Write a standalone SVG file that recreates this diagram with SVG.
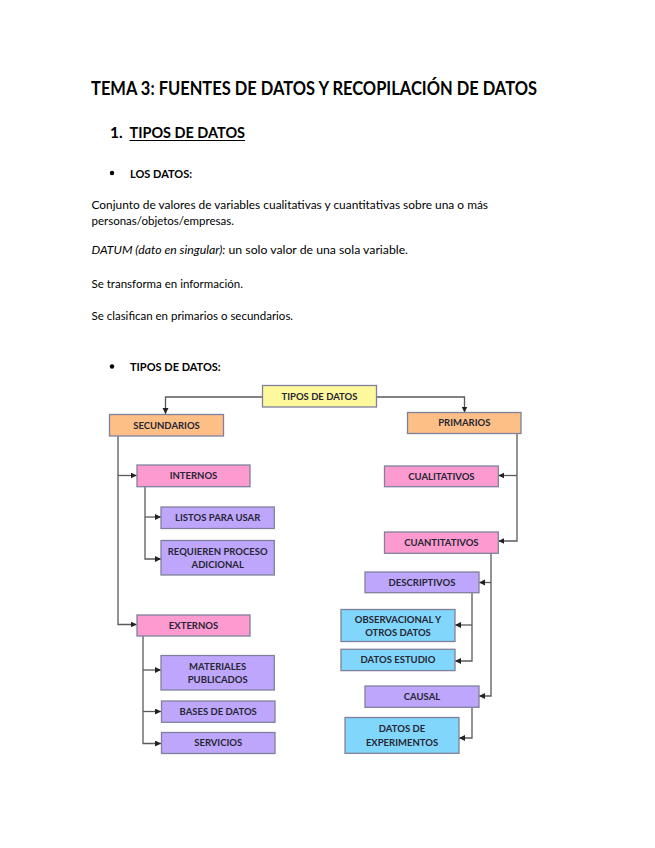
<svg xmlns="http://www.w3.org/2000/svg" width="655" height="848" viewBox="0 0 655 848">
<style>
.t{font-family:Lato,"Liberation Sans",sans-serif;fill:#000}
.b{font-weight:bold}
.box{stroke:#7f809c;stroke-width:1.3}
.lbl{font-family:Lato,"Liberation Sans",sans-serif;font-weight:bold;font-size:9.5px;fill:#262633;text-anchor:middle}
.c{fill:none;stroke:#5a5a5a;stroke-width:1.3;marker-end:url(#ah)}
.y{fill:#fef89c}.o{fill:#fdbf86}.p{fill:#fd9bd0}.v{fill:#bea6fc}.s{fill:#80d6fb}
</style>
<defs>
<marker id="ah" markerUnits="userSpaceOnUse" markerWidth="7" markerHeight="7" refX="6" refY="3" orient="auto">
<path d="M0,0 L6,3 L0,6 z" fill="#222"/>
</marker>
</defs>
<rect width="655" height="848" fill="#fff"/>
<text class="t b" x="91" y="94.5" font-size="18.5" textLength="446" lengthAdjust="spacingAndGlyphs">TEMA 3: FUENTES DE DATOS Y RECOPILACIÓN DE DATOS</text>
<text class="t b" x="110" y="137.5" font-size="15.5">1.</text>
<text class="t b" x="129.5" y="137.5" font-size="15.5" textLength="115.5" lengthAdjust="spacingAndGlyphs">TIPOS DE DATOS</text>
<line x1="129.5" y1="140.5" x2="245" y2="140.5" stroke="#000" stroke-width="1"/>
<circle cx="112" cy="173" r="2.2" fill="#000"/>
<text class="t b" x="130" y="177.5" font-size="11">LOS DATOS:</text>
<text class="t" x="91.5" y="208.5" font-size="11.5" textLength="396.5" lengthAdjust="spacingAndGlyphs">Conjunto de valores de variables cualitativas y cuantitativas sobre una o más</text>
<text class="t" x="91.5" y="225" font-size="11.5">personas/objetos/empresas.</text>
<text class="t" x="91.5" y="254" font-size="11.5" textLength="316.5" lengthAdjust="spacingAndGlyphs"><tspan font-style="italic">DATUM (dato en singular):</tspan> un solo valor de una sola variable.</text>
<text class="t" x="91.5" y="287.5" font-size="11.5">Se transforma en información.</text>
<text class="t" x="91.5" y="320" font-size="11.5">Se clasifican en primarios o secundarios.</text>
<circle cx="112" cy="366.5" r="2.2" fill="#000"/>
<text class="t b" x="130" y="371" font-size="11">TIPOS DE DATOS:</text>

<g id="connectors">
<path class="c" d="M262,397 H165.5 V414"/>
<path class="c" d="M377,397 H464.5 V412.5"/>
<path class="c" d="M118,436 V624.5 H136.7"/>
<path class="c" d="M118,475.5 H136.7"/>
<path class="c" d="M145,487 V559 H161"/>
<path class="c" d="M145,517 H161"/>
<path class="c" d="M143,636 V743.5 H161"/>
<path class="c" d="M143,670 H161"/>
<path class="c" d="M143,711.5 H161"/>
<path class="c" d="M517,433.5 V541 H498.3"/>
<path class="c" d="M517,475.5 H498.3"/>
<path class="c" d="M491,553.5 V696 H479"/>
<path class="c" d="M491,582.5 H479"/>
<path class="c" d="M472,593 V661 H455"/>
<path class="c" d="M472,625 H455"/>
<path class="c" d="M472,707.5 V738 H459"/>
</g>

<g id="n-tipos"><rect class="box y" x="262.5" y="385.5" width="114" height="21.5"/><text class="lbl" x="319.5" y="399.5">TIPOS DE DATOS</text></g>
<g id="n-secundarios"><rect class="box o" x="109.5" y="414.5" width="114" height="21.5"/><text class="lbl" x="166.5" y="428.5">SECUNDARIOS</text></g>
<g id="n-primarios"><rect class="box o" x="407.5" y="412.5" width="113.5" height="21"/><text class="lbl" x="464.3" y="426.3">PRIMARIOS</text></g>
<g id="n-internos"><rect class="box p" x="137" y="465" width="113" height="21.7"/><text class="lbl" x="193.5" y="479">INTERNOS</text></g>
<g id="n-listos"><rect class="box v" x="161" y="507" width="113.3" height="21.5"/><text class="lbl" x="217.7" y="521">LISTOS PARA USAR</text></g>
<g id="n-requieren"><rect class="box v" x="161" y="540.5" width="113.3" height="34.5"/><text class="lbl" x="217.7" y="555">REQUIEREN PROCESO</text><text class="lbl" x="217.7" y="568.3">ADICIONAL</text></g>
<g id="n-externos"><rect class="box p" x="137" y="615" width="113" height="21"/><text class="lbl" x="193.5" y="628.5">EXTERNOS</text></g>
<g id="n-materiales"><rect class="box v" x="161" y="655.5" width="113.3" height="34.5"/><text class="lbl" x="217.7" y="669.5">MATERIALES</text><text class="lbl" x="217.7" y="683">PUBLICADOS</text></g>
<g id="n-bases"><rect class="box v" x="161.5" y="701" width="113.5" height="21.3"/><text class="lbl" x="218.2" y="714.8">BASES DE DATOS</text></g>
<g id="n-servicios"><rect class="box v" x="161.5" y="732.5" width="113.5" height="21"/><text class="lbl" x="218.2" y="746.2">SERVICIOS</text></g>
<g id="n-cualitativos"><rect class="box p" x="384.5" y="466" width="113.8" height="20.7"/><text class="lbl" x="441.4" y="479.5">CUALITATIVOS</text></g>
<g id="n-cuantitativos"><rect class="box p" x="384.5" y="532" width="113.8" height="21.3"/><text class="lbl" x="441.4" y="545.8">CUANTITATIVOS</text></g>
<g id="n-descriptivos"><rect class="box v" x="365" y="572" width="114" height="20.7"/><text class="lbl" x="422" y="585.5">DESCRIPTIVOS</text></g>
<g id="n-observacional"><rect class="box s" x="341" y="609.5" width="114" height="32"/><text class="lbl" x="398" y="622.5">OBSERVACIONAL Y</text><text class="lbl" x="398" y="636">OTROS DATOS</text></g>
<g id="n-estudio"><rect class="box s" x="341" y="649.3" width="114" height="21.3"/><text class="lbl" x="398" y="663.2">DATOS ESTUDIO</text></g>
<g id="n-causal"><rect class="box v" x="365" y="686" width="114" height="21.3"/><text class="lbl" x="422" y="699.8">CAUSAL</text></g>
<g id="n-experimentos"><rect class="box s" x="345" y="717.5" width="114" height="35.8"/><text class="lbl" x="402" y="732.3">DATOS DE</text><text class="lbl" x="402" y="745.7">EXPERIMENTOS</text></g>
</svg>
